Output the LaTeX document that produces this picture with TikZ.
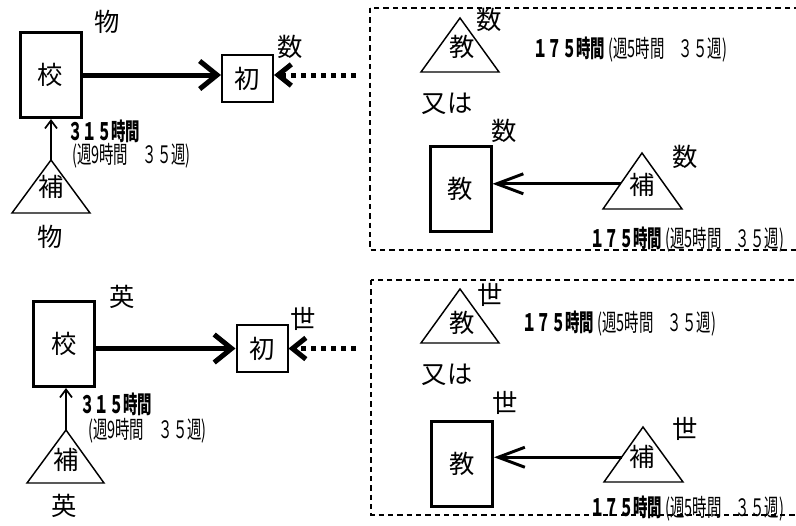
\documentclass[tikz,border=0pt]{standalone}
\usepackage{fontspec}
\setmainfont{Noto Sans CJK JP}
\newfontfamily\narrowfont[FakeStretch=0.6]{Noto Sans CJK JP}
\usetikzlibrary{arrows.meta,calc}

\begin{document}
\begin{tikzpicture}[x=0.75pt,y=-0.75pt,
  lbl/.style={font=\fontsize{19}{22}\selectfont, inner sep=0pt},
  hours/.style={font=\narrowfont\fontsize{18}{20}\selectfont, anchor=west, inner sep=0pt},
  bigbox/.style={draw, line width=2.25pt, minimum width=45.75pt, minimum height=63.75pt, inner sep=0pt, font=\fontsize{19}{22}\selectfont},
  smallbox/.style={draw, line width=1.5pt, minimum width=38.25pt, minimum height=35.25pt, inner sep=0pt, font=\fontsize{19}{22}\selectfont},
  tri/.style={line width=1.1pt},
  thickarrow/.style={line width=3.75pt, -{Straight Barb[length=13pt,width=21pt]}},
  dotarrow/.style={line width=3.75pt, dash pattern=on 3.75pt off 3.75pt, -{Straight Barb[length=10pt,width=16pt]}},
  uparrow/.style={line width=1.3pt, -{Straight Barb[length=6pt,width=9pt]}},
  backarrow/.style={line width=2.2pt, -{Straight Barb[length=20pt,width=15pt]}},
  frame/.style={line width=1.1pt, dash pattern=on 4pt off 3pt}]
\useasboundingbox (0,0) rectangle (796,525);
\clip (0,0) rectangle (796,525);
%
%
%
%
\node[bigbox] (ko1) at (50.5,75) {校};
\node[lbl] (mono1) at (107,22) {物};
\node[smallbox] (sho1) at (247.5,78.5) {初};
\node[lbl] (su1) at (290,47) {数};
\coordinate (ho1a) at (51,160);
\coordinate (ho1l) at (12,213);
\coordinate (ho1r) at (90,213);
\draw[tri] (ho1a) -- (ho1l) -- (ho1r) -- cycle;
\node[lbl] (hot1) at (51,187) {補};
\node[lbl] (mono2) at (50,237) {物};
\node[hours] (jk1) at (68,131) {\bfseries ３１５時間};
\node[hours] (jk2) at (72,156) {(週9時間　３５週)};
\coordinate (dt1) at (356,75);
%
\draw[frame] (370,8) rectangle (800,250);
\coordinate (kt1a) at (460,18);
\coordinate (kt1l) at (421,72);
\coordinate (kt1r) at (499,72);
\draw[tri] (kt1a) -- (kt1l) -- (kt1r) -- cycle;
\node[lbl] (kt1) at (462,47) {教};
\node[lbl] (su2) at (489,20) {数};
\node[hours] (jk3) at (533,50) {{\bfseries １７５時間} (週5時間　３５週)};
\node[lbl] (mata1) at (447,104) {又は};
\node[lbl] (su3) at (504,131) {数};
\node[bigbox] (kb1) at (460.5,188.5) {教};
\coordinate (hr1a) at (642,153);
\coordinate (hr1l) at (603,209);
\coordinate (hr1r) at (682,209);
\draw[tri] (hr1a) -- (hr1l) -- (hr1r) -- cycle;
\node[lbl] (hrt1) at (642,185) {補};
\node[lbl] (su4) at (685,157) {数};
\coordinate (hr1e) at ($(hr1a)!0.55!(hr1l)$);
\node[hours] (jk4) at (590,240) {{\bfseries １７５時間} (週5時間　３５週)};
%
%
%
%
\node[bigbox] (ko2) at (64,344) {校};
\node[lbl] (ei1) at (122,297) {英};
\node[smallbox] (sho2) at (262,348.5) {初};
\node[lbl] (se1) at (303,319) {世};
\coordinate (ho2a) at (66,430);
\coordinate (ho2l) at (27,483);
\coordinate (ho2r) at (104,483);
\draw[tri] (ho2a) -- (ho2l) -- (ho2r) -- cycle;
\node[lbl] (hot2) at (66,460) {補};
\node[lbl] (ei2) at (64,506) {英};
\node[hours] (jk5) at (80,404) {\bfseries ３１５時間};
\node[hours] (jk6) at (88,431) {(週9時間　３５週)};
\coordinate (dt2) at (356,348.5);
%
\draw[frame] (371,280) rectangle (800,515);
\coordinate (kt2a) at (460,289);
\coordinate (kt2l) at (421,343);
\coordinate (kt2r) at (499,343);
\draw[tri] (kt2a) -- (kt2l) -- (kt2r) -- cycle;
\node[lbl] (kt2) at (462,323) {教};
\node[lbl] (se2) at (490,295) {世};
\node[hours] (jk7) at (522,324) {{\bfseries １７５時間} (週5時間　３５週)};
\node[lbl] (mata2) at (447,375) {又は};
\node[lbl] (se3) at (505,403) {世};
\node[bigbox] (kb2) at (462,463.5) {教};
\coordinate (hr2a) at (643,427);
\coordinate (hr2l) at (604,482);
\coordinate (hr2r) at (683,482);
\draw[tri] (hr2a) -- (hr2l) -- (hr2r) -- cycle;
\node[lbl] (hrt2) at (642,457) {補};
\node[lbl] (se4) at (685,429) {世};
\coordinate (hr2e) at ($(hr2a)!0.55!(hr2l)$);
\node[hours] (jk8) at (590,509) {{\bfseries １７５時間} (週5時間　３５週)};
%
%
%
%
\draw[thickarrow] (ko1.east) -- (ko1.east -| sho1.west);
\draw[dotarrow] (dt1) -- (dt1 -| sho1.east);
\draw[uparrow] (ho1a) -- (ho1a |- ko1.south);
\draw[backarrow] (hr1e) -- (hr1e -| kb1.east);
\draw[thickarrow] (ko2.east |- sho2.west) -- (sho2.west);
\draw[dotarrow] (dt2) -- (sho2.east);
\draw[uparrow] (ho2a) -- (ho2a |- ko2.south);
\draw[backarrow] (hr2e) -- (hr2e -| kb2.east);
%
%
%
%
\end{tikzpicture}
\end{document}
